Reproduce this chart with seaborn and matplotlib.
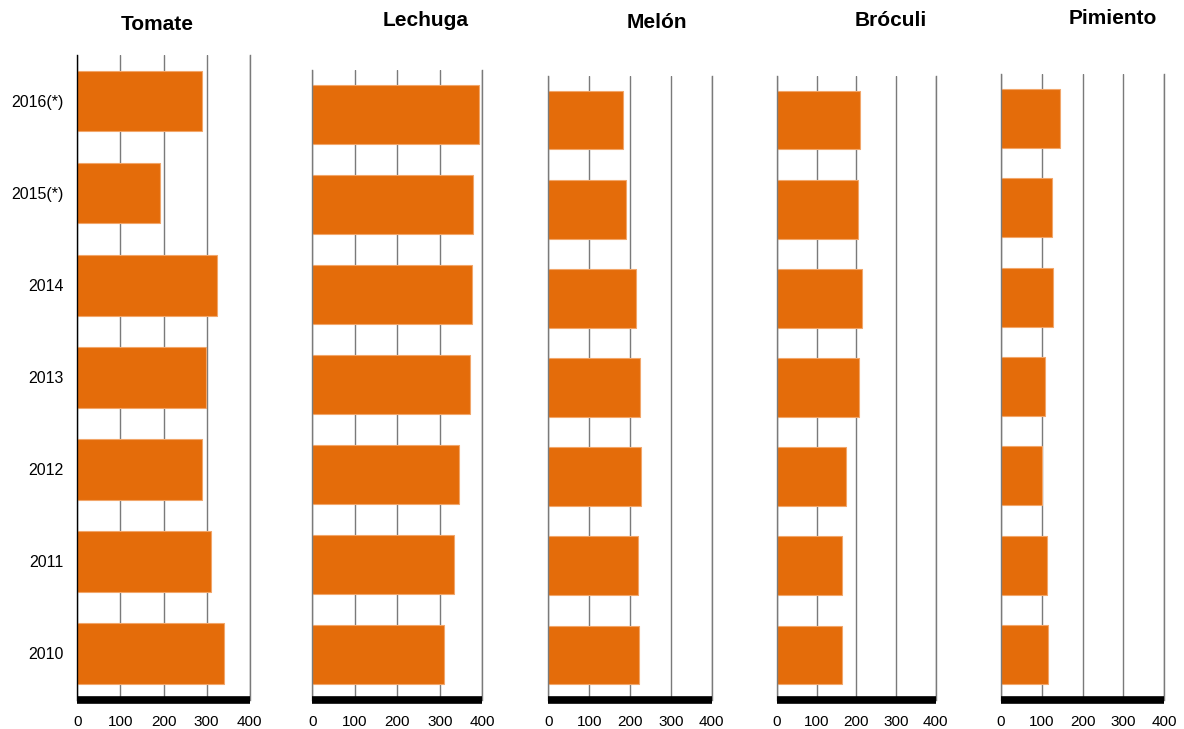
import matplotlib
matplotlib.use('Agg')
import matplotlib.pyplot as plt
import seaborn as sns

years = ['2016(*)', '2015(*)', '2014', '2013', '2012', '2011', '2010']
crops = ['Tomate', 'Lechuga', 'Melón', 'Bróculi', 'Pimiento']
tomate = [289, 191, 323, 298, 289, 310, 341]
lechuga = [393, 379, 376, 370, 345, 333, 309]
melon = [182, 190, 214, 225, 227, 220, 221]
broculi = [208, 203, 213, 207, 173, 165, 165]
pimiento = [144, 125, 127, 108, 100, 112, 114]
x_ticks = [0, 100, 200, 300, 400]

sns.set_style('white')
plt.rcParams['font.family'] = ['Liberation Sans', 'DejaVu Sans']
plt.rcParams['text.color'] = 'black'
plt.rcParams['xtick.color'] = 'black'
plt.rcParams['ytick.color'] = 'black'

bar_color = '#E46C0A'

fig = plt.figure(figsize=(11.84, 7.29), dpi=100)

# axes rectangles in pixels: left, right, top  (all end at the same bottom)
W, H = 1184, 729
bottom_px = 699.5
boxes = [(77.3, 249.8, 55), (312.3, 482.3, 69.5), (548.3, 711.7, 75.5),
         (777, 935.7, 75.5), (1001, 1164.3, 73.5)]
title_pos = [(157, 25), (426, 20), (657, 22), (891, 20), (1113, 18)]
series = [tomate, lechuga, melon, broculi, pimiento]

for i, (name, vals) in enumerate(zip(crops, series)):
    l, r, t = boxes[i]
    ax = fig.add_axes([l / W, 1 - bottom_px / H, (r - l) / W, (bottom_px - t) / H])
    sns.barplot(x=vals, y=years, orient='h', color=bar_color, width=0.66,
                saturation=1, edgecolor='#F2A66A', linewidth=0.8, ax=ax)
    ax.set_xlim(0, 400)
    ax.set_ylim(6.5, -0.5)
    ax.set_xticks(x_ticks)
    ax.set_axisbelow(True)
    ax.xaxis.grid(True, color='#7a7a7a', linewidth=1)
    ax.set_xlabel('')
    ax.set_ylabel('')
    ax.spines['top'].set_visible(False)
    ax.spines['right'].set_color('#7a7a7a')
    ax.spines['right'].set_linewidth(1)
    ax.spines['bottom'].set_color('black')
    ax.spines['bottom'].set_linewidth(5.5)
    ax.spines['bottom'].set_capstyle('butt')
    if i == 0:
        ax.spines['left'].set_color('black')
        ax.spines['left'].set_linewidth(1)
        ax.tick_params(axis='y', length=0, pad=10, labelsize=11.5)
    else:
        ax.spines['left'].set_color('#7a7a7a')
        ax.spines['left'].set_linewidth(1)
        ax.set_yticks([])
    if i == 1:
        # lechuga panel has small tick marks poking out of the base line
        ax.tick_params(axis='x', direction='inout', length=6, width=3,
                       color='black', pad=8, labelsize=11)
    else:
        ax.tick_params(axis='x', length=0, pad=11, labelsize=11)
    fig.text(title_pos[i][0] / W, 1 - title_pos[i][1] / H, name,
             ha='center', va='center', fontsize=15, fontweight='bold', color='black')

fig.savefig('out.png', dpi=100)
